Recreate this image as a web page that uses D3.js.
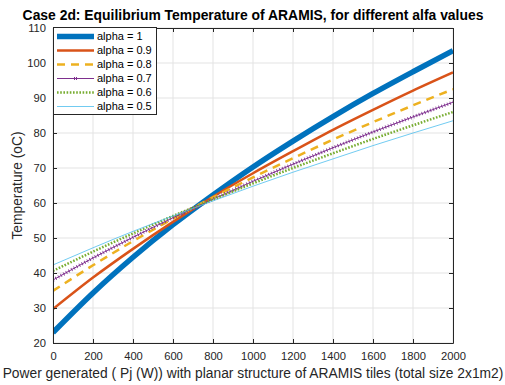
<!DOCTYPE html>
<html>
<head>
<meta charset="utf-8">
<script src="https://cdn.jsdelivr.net/npm/d3@7"></script>
<style>
  body { margin: 0; background: #fff; }
  svg { font-family: "Liberation Sans", Arial, Helvetica, sans-serif; }
  .tick text { font-size: 11.2px; fill: #262626; }
  .tick line { stroke: #262626; }
  .domain { stroke: #262626; }
</style>
</head>
<body>
<div id="chart"></div>
<script>
// power generated (W), every 200 W
const power = [0, 200, 400, 600, 800, 1000, 1200, 1400, 1600, 1800, 2000];

// equilibrium temperature (oC)
const alpha10 = [23.0, 34.3, 44.5, 53.8, 62.3, 70.3, 77.7, 84.7, 91.3, 97.5, 103.5];
const alpha09 = [29.7, 38.7, 46.9, 54.6, 61.8, 68.5, 74.8, 80.9, 86.6, 92.1, 97.3];
const alpha08 = [34.9, 42.2, 49.1, 55.5, 61.6, 67.3, 72.8, 78.1, 83.1, 87.9, 92.5];
const alpha07 = [38.0, 44.3, 50.2, 55.8, 61.1, 66.2, 71.1, 75.8, 80.3, 84.6, 88.8];
const alpha06 = [40.6, 46.1, 51.3, 56.3, 61.0, 65.6, 70.0, 74.2, 78.3, 82.2, 86.0];
const alpha05 = [42.3, 47.2, 51.9, 56.3, 60.6, 64.8, 68.8, 72.6, 76.4, 80.0, 83.5];

const seriesNames = ["alpha = 1", "alpha = 0.9", "alpha = 0.8", "alpha = 0.7", "alpha = 0.6", "alpha = 0.5"];
const xTicks = [0, 200, 400, 600, 800, 1000, 1200, 1400, 1600, 1800, 2000];
const yTicks = [20, 30, 40, 50, 60, 70, 80, 90, 100, 110];

const series = [
  { name: seriesNames[0], values: alpha10, color: "#0072BD", width: 5.5, dash: null },
  { name: seriesNames[1], values: alpha09, color: "#D95319", width: 2.5, dash: null },
  { name: seriesNames[2], values: alpha08, color: "#EDB120", width: 2.5, dash: "8,6" },
  { name: seriesNames[3], values: alpha07, color: "#7E2F8E", width: 1, dash: null, marker: true },
  { name: seriesNames[4], values: alpha06, color: "#77AC30", width: 2.5, dash: "1.6,1.6" },
  { name: seriesNames[5], values: alpha05, color: "#4DBEEE", width: 0.8, dash: null }
];

const W = 505, H = 385;
const margin = { top: 28, right: 52, bottom: 42, left: 53 };
const width = W - margin.left - margin.right;
const height = H - margin.top - margin.bottom;

const svg = d3.select("#chart").append("svg")
  .attr("width", W)
  .attr("height", H);

const g = svg.append("g")
  .attr("transform", `translate(${margin.left},${margin.top})`);

const x = d3.scaleLinear().domain([0, 2000]).range([0, width]);
const y = d3.scaleLinear().domain([20, 110]).range([height, 0]);

// grid
g.append("g")
  .selectAll("line")
  .data(xTicks)
  .join("line")
  .attr("x1", d => x(d)).attr("x2", d => x(d))
  .attr("y1", 0).attr("y2", height)
  .attr("stroke", "#e3e3e3").attr("stroke-width", 1);
g.append("g")
  .selectAll("line")
  .data(yTicks)
  .join("line")
  .attr("y1", d => y(d)).attr("y2", d => y(d))
  .attr("x1", 0).attr("x2", width)
  .attr("stroke", "#e3e3e3").attr("stroke-width", 1);

// lines
const line = d3.line()
  .x((d, i) => x(power[i]))
  .y(d => y(d))
  .curve(d3.curveMonotoneX);

svg.append("clipPath").attr("id", "plotclip")
  .append("rect").attr("width", width).attr("height", height);

const lines = g.append("g").attr("clip-path", "url(#plotclip)");

series.forEach(s => {
  lines.append("path")
    .attr("d", line(s.values))
    .attr("fill", "none")
    .attr("stroke", s.color)
    .attr("stroke-width", s.width)
    .attr("stroke-dasharray", s.dash);
  if (s.marker) {
    // dense markers along the line
    lines.append("path")
      .attr("d", line(s.values))
      .attr("fill", "none")
      .attr("stroke", s.color)
      .attr("stroke-width", 3.5)
      .attr("stroke-dasharray", "0.8,2.2");
  }
});

// axes (box with inward ticks)
g.append("g")
  .attr("transform", `translate(0,${height})`)
  .call(d3.axisBottom(x).tickValues(xTicks).tickFormat(d3.format("d"))
    .tickSize(-4).tickSizeOuter(0).tickPadding(9));
g.append("g")
  .call(d3.axisLeft(y).tickValues(yTicks).tickSize(-4).tickSizeOuter(0).tickPadding(7));
g.append("g")
  .call(d3.axisTop(x).tickValues(xTicks).tickSize(-4).tickSizeOuter(0).tickFormat(""));
g.append("g")
  .attr("transform", `translate(${width},0)`)
  .call(d3.axisRight(y).tickValues(yTicks).tickSize(-4).tickSizeOuter(0).tickFormat(""));

// title and labels
svg.append("text")
  .attr("x", margin.left + width / 2)
  .attr("y", 19.5)
  .attr("text-anchor", "middle")
  .attr("font-weight", "bold")
  .attr("font-size", "13.9px")
  .attr("fill", "#000")
  .text("Case 2d: Equilibrium Temperature of ARAMIS, for different alfa values");

svg.append("text")
  .attr("x", margin.left + width / 2)
  .attr("y", 378)
  .attr("text-anchor", "middle")
  .attr("font-size", "13.8px")
  .attr("fill", "#262626")
  .text("Power generated ( Pj (W)) with planar structure of ARAMIS tiles (total size 2x1m2)");

svg.append("text")
  .attr("transform", "rotate(-90)")
  .attr("x", -(margin.top + height / 2))
  .attr("y", 22)
  .attr("text-anchor", "middle")
  .attr("font-size", "13.8px")
  .attr("fill", "#262626")
  .text("Temperature (oC)");

// legend
const legend = g.append("g").attr("transform", "translate(0,-1)");
legend.append("rect")
  .attr("x", 0.5).attr("y", 0.5)
  .attr("width", 103).attr("height", 87)
  .attr("fill", "#fff")
  .attr("stroke", "#262626")
  .attr("stroke-width", 1);

series.forEach((s, i) => {
  const ly = 9.5 + i * 14;
  legend.append("line")
    .attr("x1", 4).attr("x2", 41)
    .attr("y1", ly).attr("y2", ly)
    .attr("stroke", s.color)
    .attr("stroke-width", s.width)
    .attr("stroke-dasharray", s.dash);
  if (s.marker) {
    legend.append("path")
      .attr("d", `M${22.5 - 1.5},${ly - 1.5}L${22.5 + 1.5},${ly + 1.5}M${22.5 - 1.5},${ly + 1.5}L${22.5 + 1.5},${ly - 1.5}`)
      .attr("stroke", s.color)
      .attr("stroke-width", 1);
  }
  legend.append("text")
    .attr("x", 44)
    .attr("y", ly)
    .attr("dy", "0.35em")
    .attr("font-size", "11px")
    .attr("fill", "#000")
    .text(s.name);
});
</script>
</body>
</html>
